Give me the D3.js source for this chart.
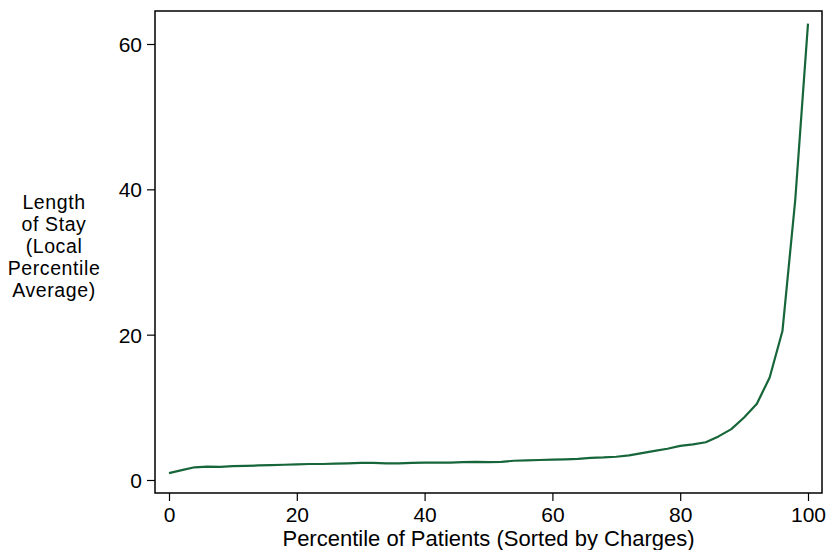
<!DOCTYPE html>
<html>
<head>
<meta charset="utf-8">
<script src="https://cdn.jsdelivr.net/npm/d3@7"></script>
<style>
  body { margin: 0; background: #fff; }
  svg text { font-family: "Liberation Sans", Arial, Helvetica, sans-serif; fill: #000; }
</style>
</head>
<body>
<svg width="829" height="550"></svg>
<script>
// percentile of patients (sorted by charges), every 2 percentiles
var percentiles = d3.range(0, 101, 2);
// length of stay, local percentile average
var stay = [0.95, 1.35, 1.75, 1.85, 1.8, 1.9, 1.95, 2.0, 2.05, 2.1,
            2.15, 2.2, 2.2, 2.25, 2.3, 2.35, 2.35, 2.3, 2.3, 2.35,
            2.4, 2.4, 2.4, 2.45, 2.5, 2.45, 2.5, 2.65, 2.7, 2.75,
            2.8, 2.85, 2.9, 3.05, 3.1, 3.2, 3.4, 3.7, 4.0, 4.3,
            4.7, 4.9, 5.2, 6.0, 7.0, 8.6, 10.5, 14.1, 20.5, 38.5,
            62.8];
var xTicks = [0, 20, 40, 60, 80, 100];
var yTicks = [0, 20, 40, 60];
var yTitle = ["Length", "of Stay", "(Local", "Percentile", "Average)"];
var xTitle = "Percentile of Patients (Sorted by Charges)";

var svg = d3.select('svg');
var frame = {left: 155, top: 11, right: 822, bottom: 493};

var x = d3.scaleLinear().domain([0, 100]).range([169, 808]);
var y = d3.scaleLinear().domain([0, 60]).range([480, 44]);

// frame
svg.append('rect')
  .attr('x', frame.left).attr('y', frame.top)
  .attr('width', frame.right - frame.left)
  .attr('height', frame.bottom - frame.top)
  .attr('fill', 'none').attr('stroke', '#000').attr('stroke-width', 1.5);

// axes
var xAxis = svg.append('g')
  .attr('transform', 'translate(0,' + frame.bottom + ')')
  .call(d3.axisBottom(x).tickValues(xTicks).tickSize(8).tickPadding(6));
var yAxis = svg.append('g')
  .attr('transform', 'translate(' + frame.left + ',0)')
  .call(d3.axisLeft(y).tickValues(yTicks).tickSize(8).tickPadding(5));

[xAxis, yAxis].forEach(function(g) {
  g.select('.domain').remove();
  g.selectAll('line').attr('stroke', '#000').attr('stroke-width', 1.2);
  g.selectAll('text').style('font-size', '21px').attr('fill', '#000');
});
yAxis.selectAll('text').attr('dy', '0.35em');

// the line
var line = d3.line()
  .x(function(d, i) { return x(percentiles[i]); })
  .y(function(d) { return y(d); });

svg.append('path')
  .datum(stay)
  .attr('fill', 'none')
  .attr('stroke', '#17663a')
  .attr('stroke-width', 2.2)
  .attr('stroke-linejoin', 'round')
  .attr('d', line);

// titles
svg.append('text')
  .attr('x', (frame.left + frame.right) / 2)
  .attr('y', 546)
  .attr('text-anchor', 'middle')
  .style('font-size', '22px')
  .text(xTitle);

svg.append('text')
  .attr('text-anchor', 'middle')
  .style('font-size', '19.5px')
  .style('letter-spacing', '0.6px')
  .selectAll('tspan')
  .data(yTitle)
  .enter().append('tspan')
    .attr('x', 54)
    .attr('y', function(d, i) { return 209 + i * 22; })
    .text(function(d) { return d; });
</script>
</body>
</html>
